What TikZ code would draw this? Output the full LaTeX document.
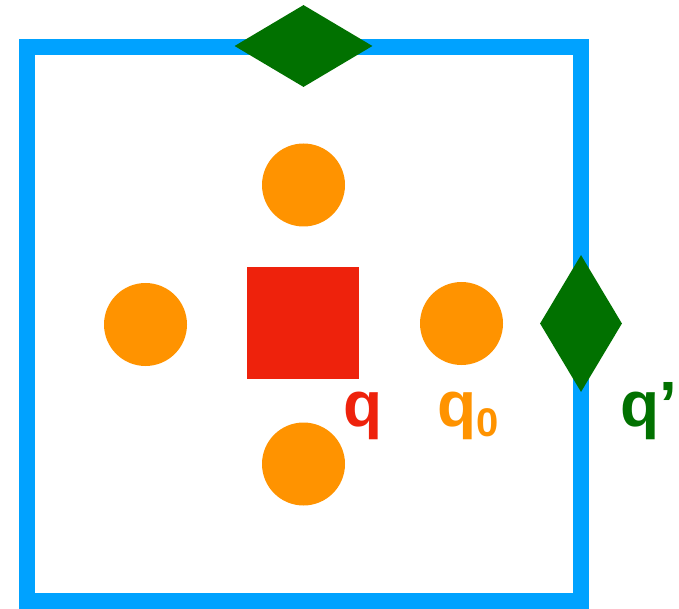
\documentclass[tikz,border=0pt]{standalone}
\usepackage{fontspec}
\setmainfont{Liberation Sans}
\usetikzlibrary{shapes.geometric}
\definecolor{kblue}{HTML}{00A2FF}
\definecolor{kgreen}{HTML}{017100}
\definecolor{korange}{HTML}{FF9300}
\definecolor{kred}{HTML}{EE220C}
\begin{document}
\begin{tikzpicture}[x=1pt,y=-1pt,
  dot/.style={circle,fill=korange,inner sep=0pt,minimum size=83pt},
  gem/.style={diamond,fill=kgreen,inner sep=0pt},
  lbl/.style={inner sep=0pt,anchor=base west,font=\fontsize{64}{64}\selectfont\bfseries}]
\useasboundingbox (0,0) rectangle (679,609);
\draw[kblue,line width=16pt] (26.5,47) rectangle (581,600.5);
\node[gem,minimum width=138pt,minimum height=82pt] (top) at (303.5,46) {};
\node[gem,minimum width=82pt,minimum height=137pt] (right) at (581,323.5) {};
\node[dot] (c1) at (303.5,185) {};
\node[dot] (c2) at (145.5,324.5) {};
\node[dot] (c3) at (461.5,323.5) {};
\node[dot] (c4) at (303.5,464) {};
\node[fill=kred,inner sep=0pt,minimum size=112pt] (sq) at (303,323) {};
\node[lbl,text=kred] (lq) at (343.5,426) {q};
\node[lbl,text=korange] (lq0) at (437.5,426) {q\raisebox{-10pt}{\fontsize{40}{40}\selectfont 0}};
\node[lbl,text=kgreen] (lqp) at (620.5,426) {q’};
\end{tikzpicture}
\end{document}
